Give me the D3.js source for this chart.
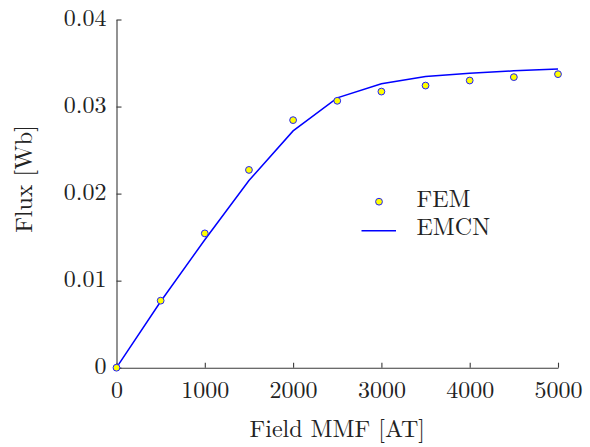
<!DOCTYPE html>
<html><head><meta charset="utf-8">
<script src="https://cdn.jsdelivr.net/npm/d3@7"></script>
<style>body{margin:0;background:#fff}svg{display:block}</style>
</head><body>
<svg id="c" width="590" height="447"></svg>
<script>
const mmf = [0, 500, 1000, 1500, 2000, 2500, 3000, 3500, 4000, 4500, 5000];
const femFlux = [0, 0.0077, 0.01543, 0.02272, 0.02844, 0.03066, 0.03172, 0.03241, 0.03299, 0.03338, 0.03372];
const emcnFlux = [0, 0.0076, 0.0147, 0.0215, 0.0272, 0.0310, 0.03262, 0.03345, 0.03382, 0.0341, 0.03432];
const xTicks = [0, 1000, 2000, 3000, 4000, 5000];
const yTicks = [0, 0.01, 0.02, 0.03, 0.04];
const legendLabels = ["FEM", "EMCN"];

const FONT = "'Latin Modern Roman', 'Liberation Serif', serif";
const svg = d3.select("#c");
const x = d3.scaleLinear().domain([0, 5000]).range([116.5, 558]);
const y = d3.scaleLinear().domain([0, 0.04]).range([367.7, 19.5]);
const axisColor = "#3a3a3a";
const textColor = "#222";
const fs = "24px";

const xAxis = svg.append("g").attr("transform", `translate(0,${y(0)})`)
  .call(d3.axisBottom(x).tickValues(xTicks).tickSizeInner(-5).tickSizeOuter(0).tickFormat(d3.format("d")));
const yAxis = svg.append("g").attr("transform", `translate(${x(0)},0)`)
  .call(d3.axisLeft(y).tickValues(yTicks).tickSizeInner(-5).tickSizeOuter(0).tickFormat(d => d === 0 ? "0" : d3.format(".2f")(d)));
[xAxis, yAxis].forEach(g => {
  g.attr("font-family", null).attr("font-size", null);
  g.selectAll("path").attr("stroke", axisColor).attr("stroke-width", 1.1);
  g.selectAll("line").attr("stroke", axisColor).attr("stroke-width", 1.1);
  g.selectAll("text").style("font-size", fs).style("font-family", FONT).attr("fill", textColor);
});
xAxis.selectAll("text").attr("y", 30.5).attr("dy", 0);
yAxis.selectAll("text").attr("x", -10).attr("dy", 5.5);

svg.append("text").attr("x", (x(0) + x(5000)) / 2).attr("y", 437.3).attr("text-anchor", "middle")
  .style("font-size", fs).style("font-family", FONT).attr("fill", textColor).text("Field MMF [AT]");
svg.append("text").attr("transform", `translate(31.5,179) rotate(-90)`).attr("text-anchor", "middle")
  .style("font-size", fs).style("font-family", FONT).attr("fill", textColor).text("Flux [Wb]");

const line = d3.line().x((d, i) => x(mmf[i])).y(d => y(d));
svg.append("path").datum(emcnFlux).attr("d", line).attr("fill", "none")
  .attr("stroke", "#0000ff").attr("stroke-width", 1.5);

svg.selectAll("circle.fem").data(femFlux).enter().append("circle").attr("class", "fem")
  .attr("cx", (d, i) => x(mmf[i])).attr("cy", d => y(d)).attr("r", 3.4)
  .attr("fill", "#ffff00").attr("stroke", "#2020ff").attr("stroke-width", 1);

// legend
const lg = svg.append("g");
lg.append("circle").attr("cx", 379).attr("cy", 201.7).attr("r", 3.4)
  .attr("fill", "#ffff00").attr("stroke", "#2020ff").attr("stroke-width", 1);
lg.append("line").attr("x1", 361.5).attr("x2", 396).attr("y1", 230.7).attr("y2", 230.7)
  .attr("stroke", "#0000ff").attr("stroke-width", 1.5);
lg.append("text").attr("x", 416.5).attr("y", 206.7).style("font-size", fs).style("font-family", FONT).attr("fill", textColor).text(legendLabels[0]);
lg.append("text").attr("x", 416.5).attr("y", 235.2).style("font-size", fs).style("font-family", FONT).attr("fill", textColor).text(legendLabels[1]);
</script>
</body></html>
